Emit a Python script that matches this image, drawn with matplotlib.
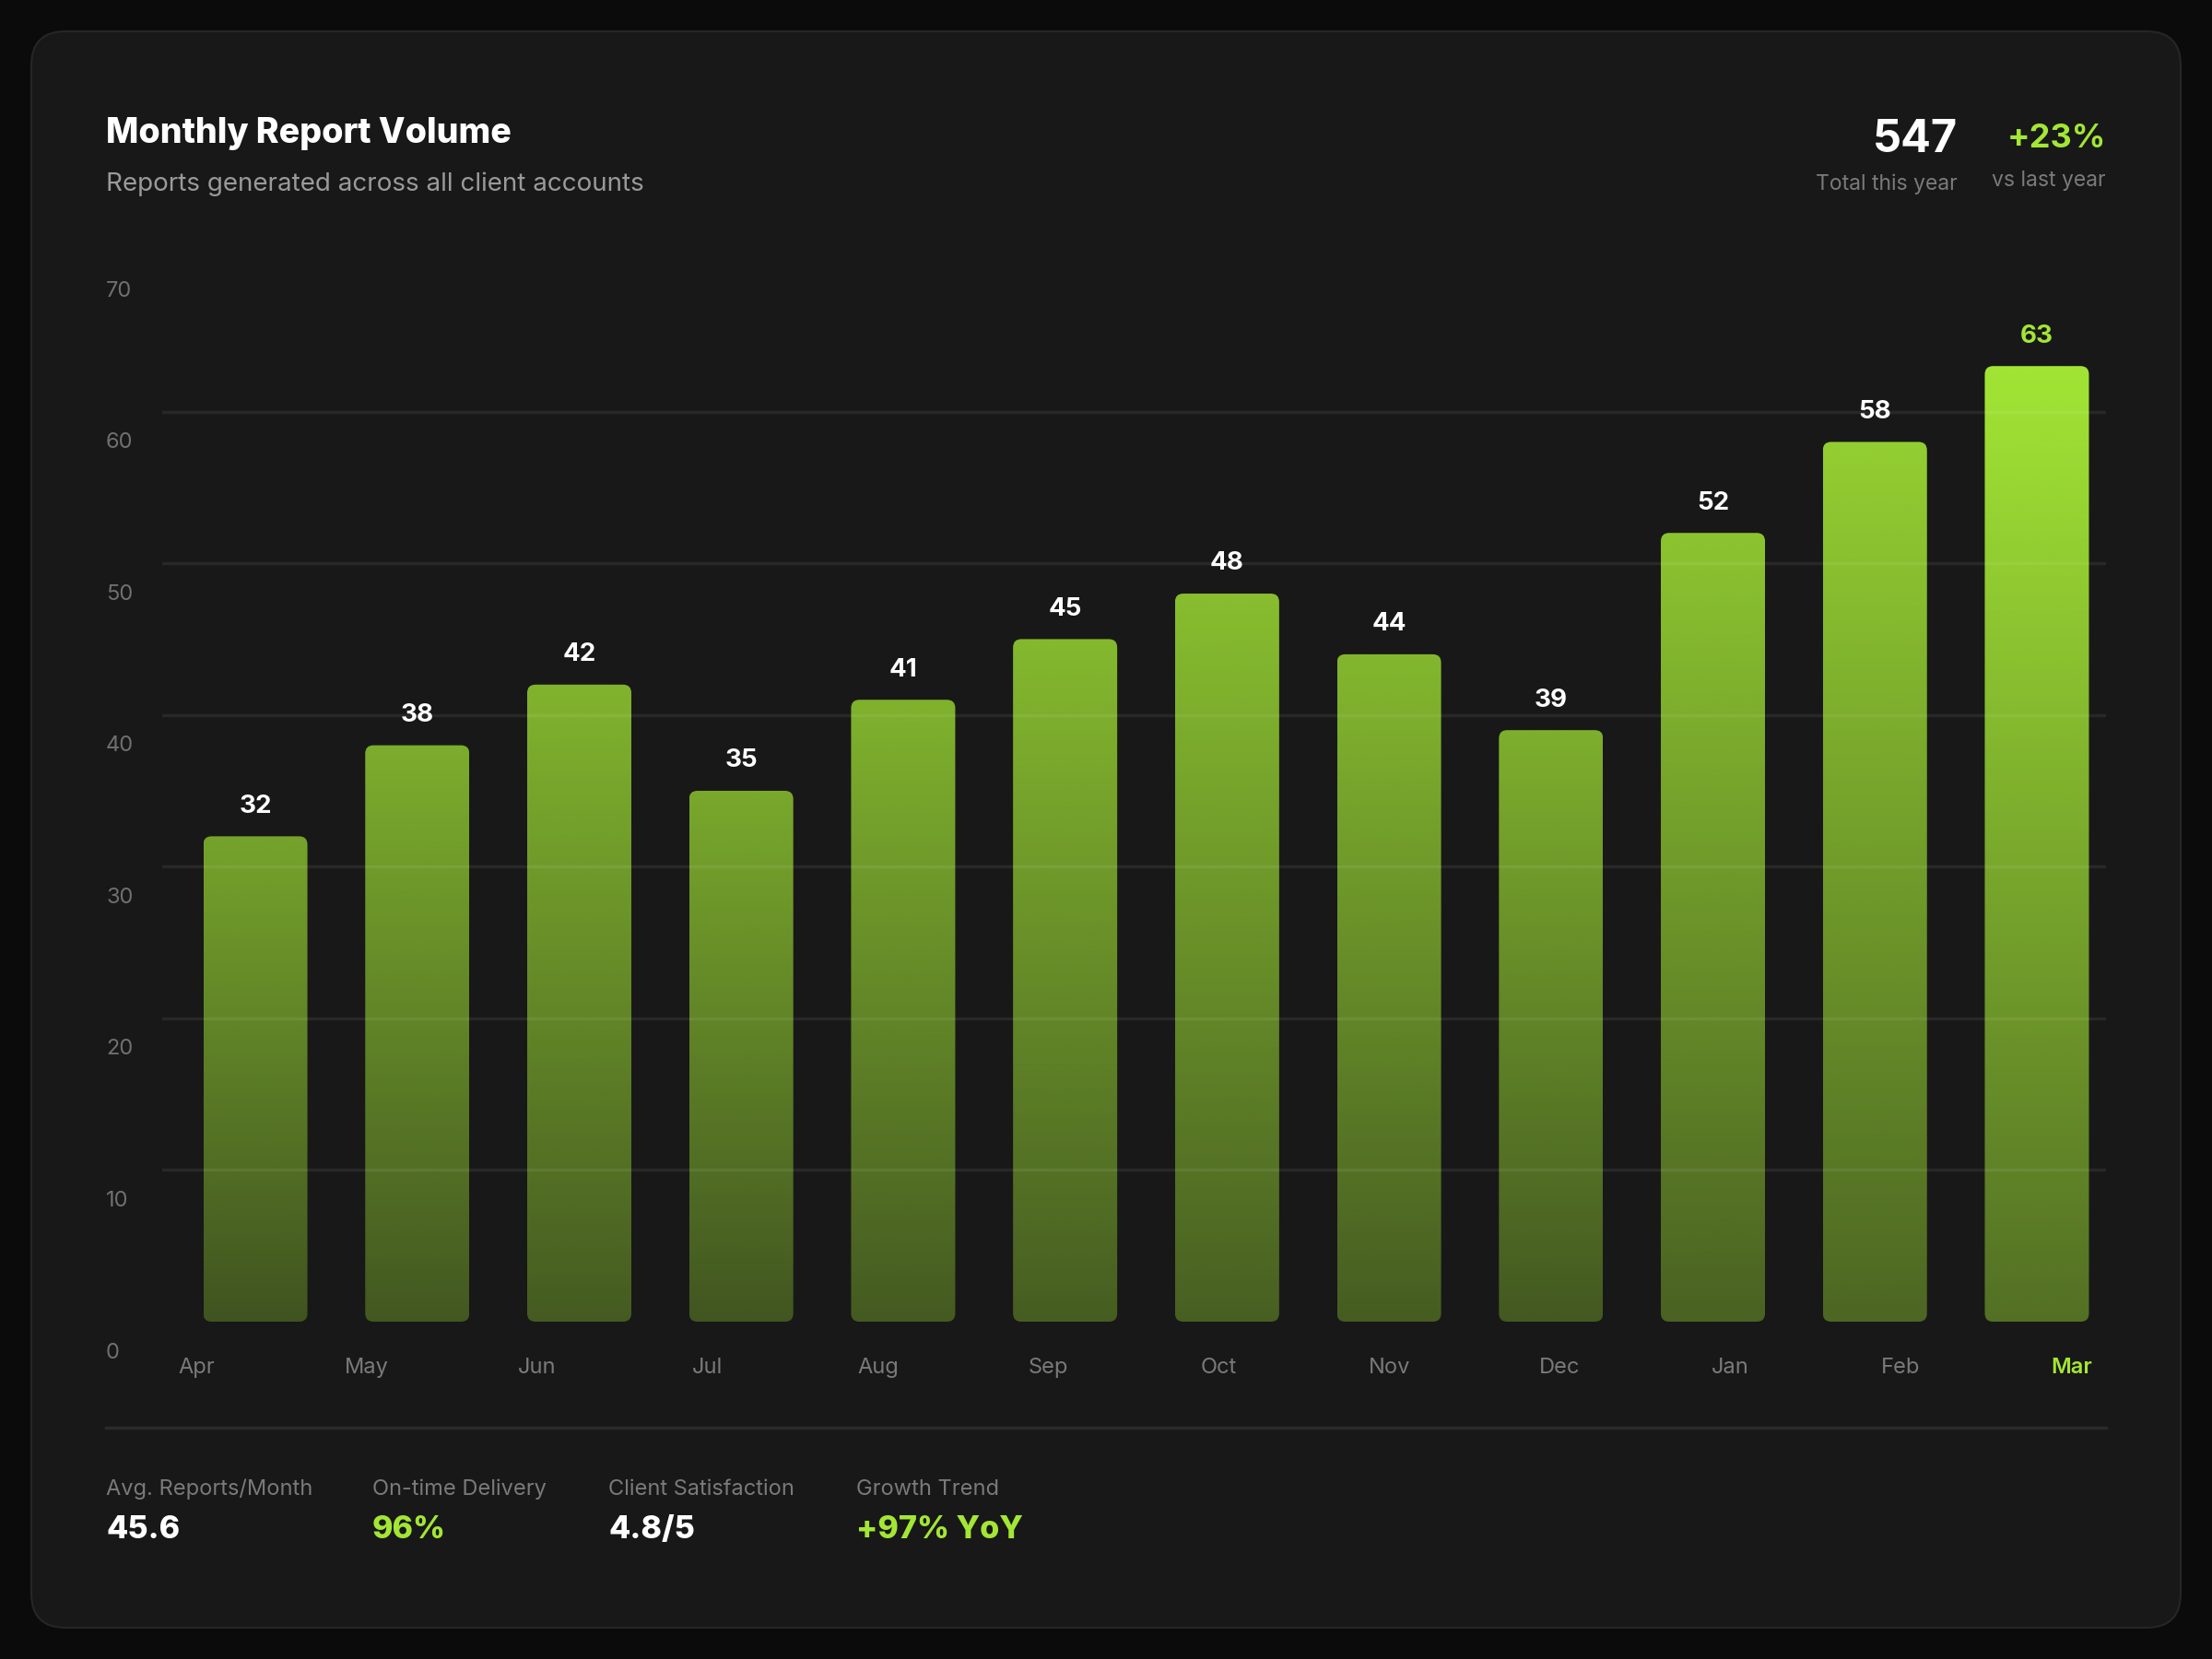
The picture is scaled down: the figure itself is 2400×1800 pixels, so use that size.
import numpy as np
import matplotlib
matplotlib.use("Agg")
import matplotlib.pyplot as plt
from matplotlib.patches import FancyBboxPatch
from matplotlib import transforms
from matplotlib.colors import to_rgb

# ---- data ----
months = ['Apr', 'May', 'Jun', 'Jul', 'Aug', 'Sep', 'Oct', 'Nov', 'Dec', 'Jan', 'Feb', 'Mar']
reports = [32, 38, 42, 35, 41, 45, 48, 44, 39, 52, 58, 63]
y_ticks = [0, 10, 20, 30, 40, 50, 60, 70]
highlight_month = 'Mar'

title = 'Monthly Report Volume'
subtitle = 'Reports generated across all client accounts'
total_value = '547'
total_label = 'Total this year'
change_value = '+23%'
change_label = 'vs last year'

stat_labels = ['Avg. Reports/Month', 'On-time Delivery', 'Client Satisfaction', 'Growth Trend']
stat_values = ['45.6', '96%', '4.8/5', '+97% YoY']
stat_accent = [False, True, False, True]

# ---- style ----
BG = '#0b0b0b'
CARD = '#181818'
CARD_EDGE = '#262626'
LIME = '#a3e635'
WHITE = '#ffffff'
MUTED = '#9a9a9a'
DIM = '#7a7a7a'
AXIS_TXT = '#707070'

plt.rcParams['font.family'] = ['Inter', 'DejaVu Sans']

W, H = 2400, 1800
fig = plt.figure(figsize=(24, 18), dpi=100, facecolor=BG)


def fx(px):
    return px / W


def fy(py):
    return 1 - py / H


# card background
card = FancyBboxPatch((fx(34), fy(1766)), fx(2366) - fx(34), fy(34) - fy(1766),
                      boxstyle='round,pad=0,rounding_size=%f' % (37 / W),
                      mutation_aspect=W / H, transform=fig.transFigure,
                      facecolor=CARD, edgecolor=CARD_EDGE, linewidth=1.5, zorder=0)
fig.add_artist(card)

# header
fig.text(fx(115), fy(145), title, color=WHITE, fontsize=27, fontweight='heavy', va='center', ha='left')
fig.text(fx(115), fy(200), subtitle, color=MUTED, fontsize=20, va='center', ha='left')
fig.text(fx(2124), fy(152), total_value, color=WHITE, fontsize=35, fontweight='bold', va='center', ha='right')
fig.text(fx(2124), fy(200), total_label, color=DIM, fontsize=16.5, va='center', ha='right')
fig.text(fx(2285), fy(151), change_value, color=LIME, fontsize=26, fontweight='bold', va='center', ha='right')
fig.text(fx(2285), fy(196), change_label, color=DIM, fontsize=16.5, va='center', ha='right')

# chart axes
ax_left, ax_right, ax_top, ax_bottom = 176, 2285, 282, 1434
ax = fig.add_axes([fx(ax_left), fy(ax_bottom), (ax_right - ax_left) / W, (ax_bottom - ax_top) / H])
ax.set_facecolor('none')
for s in ax.spines.values():
    s.set_visible(False)

x = np.arange(len(months))
xlim = (-0.575, 11.427)
ylim = (y_ticks[0], y_ticks[-1])
ax.set_xlim(*xlim)
ax.set_ylim(*ylim)

px_per_x = (ax_right - ax_left) / (xlim[1] - xlim[0])
px_per_y = (ax_bottom - ax_top) / (ylim[1] - ylim[0])
bar_w = 113 / px_per_x
radius = 9 / px_per_x
m_aspect = px_per_x / px_per_y

# gridlines (drawn over bars, faint)
for t in y_ticks[1:-1]:
    ax.axhline(t, color='white', alpha=0.07, lw=2.5, zorder=4)

# y labels: left aligned, sitting below their gridline
ylab_tr = transforms.blended_transform_factory(fig.transFigure, ax.transData) + \
    transforms.ScaledTranslation(0, -0.335, fig.dpi_scale_trans)
for t in y_ticks:
    ax.text(fx(115), t, str(t), transform=ylab_tr, color=AXIS_TXT, fontsize=17,
            ha='left', va='center', clip_on=False)

# bars with vertical gradient
lime_rgb = to_rgb(LIME)
for i, v in enumerate(reports):
    is_hl = months[i] == highlight_month
    top_a = 1.0 if is_hl else min(0.42 + 0.0081 * v, 0.95)
    grad = np.zeros((256, 1, 4))
    grad[..., :3] = lime_rgb
    grad[:, 0, 3] = np.linspace(0.43 * top_a, top_a, 256)
    patch = FancyBboxPatch((x[i] - bar_w / 2, 0), bar_w, v,
                           boxstyle='round,pad=0,rounding_size=%f' % radius,
                           mutation_aspect=m_aspect, facecolor='none', edgecolor='none')
    ax.add_patch(patch)
    im = ax.imshow(grad, extent=(x[i] - bar_w / 2, x[i] + bar_w / 2, 0, v), origin='lower',
                   aspect='auto', interpolation='bilinear', zorder=2)
    im.set_clip_path(patch)
    ax.annotate(str(v), (x[i], v), xytext=(0, 23.5), textcoords='offset points',
                ha='center', va='center', fontsize=20, fontweight='bold',
                color=LIME if is_hl else WHITE, zorder=5)

ax.set_xlim(*xlim)
ax.set_ylim(*ylim)

# month labels spread evenly across the row
ax.set_yticks([])
ax.set_xticks(np.linspace(-0.366, 11.212, len(months)))
ax.set_xticklabels(months)
ax.tick_params(axis='x', length=0, pad=28, labelsize=17, labelcolor=DIM)
for lab, m in zip(ax.get_xticklabels(), months):
    if m == highlight_month:
        lab.set_color(LIME)
        lab.set_fontweight('semibold')

# separator
fig.add_artist(plt.Line2D([fx(115), fx(2285)], [fy(1549), fy(1549)], color='#2a2a2a', lw=2.5,
                          transform=fig.transFigure))

# footer stats
stat_x = [115, 404, 660, 929]
for sx, lab, val, acc in zip(stat_x, stat_labels, stat_values, stat_accent):
    fig.text(fx(sx), fy(1616), lab, color=DIM, fontsize=17, ha='left', va='center')
    fig.text(fx(sx), fy(1660), val, color=LIME if acc else WHITE, fontsize=24.5,
             fontweight='heavy', ha='left', va='center')

fig.savefig('out.png', dpi=100, facecolor=BG)
